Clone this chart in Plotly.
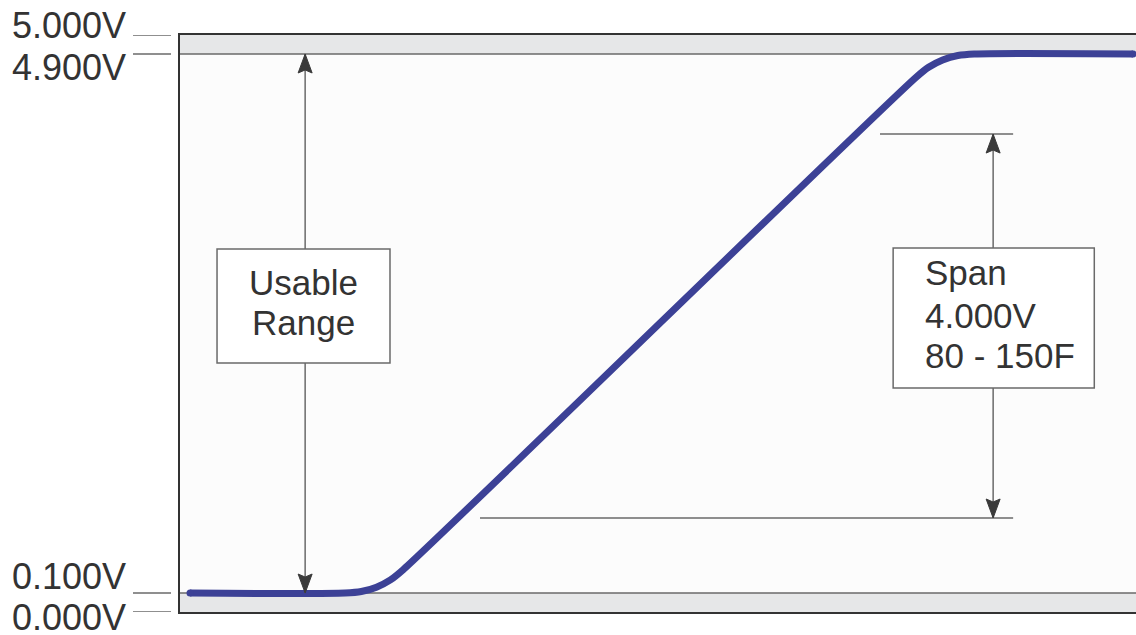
import plotly.graph_objects as go

# ---------------- data ----------------
# x: temperature (F), y: output voltage (V)
temp_f = [33.25, 60.38, 63.23, 65.88, 68.33, 70.58, 160.25, 162.5, 164.96, 167.62, 170.5, 198.28]
volts = [0.100, 0.100, 0.113, 0.152, 0.217, 0.309, 4.690, 4.782, 4.847, 4.886, 4.900, 4.900]

tick_labels = ["5.000V", "4.900V", "0.100V", "0.000V"]
tick_values = [5.069, 4.900, 0.100, -0.069]   # 5.000 / 0.000 sit on the frame edges (schematic)

usable_low, usable_high = 0.100, 4.900
span_low_v, span_high_v = 0.768, 4.187
span_low_f, span_high_f = 80, 150
usable_text = ["Usable", "Range"]
span_text = ["Span", "4.000V", "80 - 150F"]

# ---------------- layout constants ----------------
X_RANGE = [31.5, 198.8]
Y_RANGE = [-0.069, 5.069]
LINE_COLOR = "#3c4196"
TEXT_COLOR = "#333333"
GRID_GRAY = "#6a6a6a"
BAND_COLOR = "#e6e7e8"
FONT = "Liberation Sans, Arial, sans-serif"

fig = go.Figure()

fig.add_trace(go.Scatter(
    x=temp_f, y=volts, mode="lines",
    line=dict(color=LINE_COLOR, width=7, shape="spline", smoothing=0.8),
    hoverinfo="skip", showlegend=False))
# round caps at both ends of the curve
fig.add_trace(go.Scatter(
    x=[temp_f[0], temp_f[-1]], y=[volts[0], volts[-1]], mode="markers",
    marker=dict(color=LINE_COLOR, size=7, line=dict(width=0)),
    hoverinfo="skip", showlegend=False))

shapes = []
# gray bands outside usable range
shapes.append(dict(type="rect", xref="paper", yref="y", x0=0, x1=1, y0=usable_high, y1=Y_RANGE[1],
                   fillcolor=BAND_COLOR, line=dict(width=0), layer="below"))
shapes.append(dict(type="rect", xref="paper", yref="y", x0=0, x1=1, y0=Y_RANGE[0], y1=usable_low,
                   fillcolor=BAND_COLOR, line=dict(width=0), layer="below"))
# band boundary lines
for v in (usable_high, usable_low):
    shapes.append(dict(type="line", xref="paper", yref="y", x0=0, x1=1, y0=v, y1=v,
                       line=dict(color=GRID_GRAY, width=1.5), layer="below"))
# outside tick marks (detached from frame)
for v in tick_values:
    shapes.append(dict(type="line", xref="paper", yref="y", x0=-0.0492, x1=-0.0094, y0=v, y1=v,
                       line=dict(color=GRID_GRAY, width=1.5)))

ARROW_COLOR = "#3a3a3a"
# usable range arrow
ux = 53.4
shapes.append(dict(type="line", xref="x", yref="y", x0=ux, x1=ux, y0=usable_low, y1=usable_high,
                   line=dict(color=GRID_GRAY, width=1.5)))
# span reference lines
shapes.append(dict(type="line", xref="x", yref="y", x0=span_low_f + 4, x1=177.3, y0=span_low_v, y1=span_low_v,
                   line=dict(color=GRID_GRAY, width=1.5)))
shapes.append(dict(type="line", xref="x", yref="y", x0=span_high_f + 4, x1=177.3, y0=span_high_v, y1=span_high_v,
                   line=dict(color=GRID_GRAY, width=1.5)))
sx = 173.8
shapes.append(dict(type="line", xref="x", yref="y", x0=sx, x1=sx, y0=span_low_v, y1=span_high_v,
                   line=dict(color=GRID_GRAY, width=1.5)))

# arrowheads
def head(x, y, up):
    s = -1 if up else 1
    path = f"M0,0 L-7,{s*19} L0,{s*16} L7,{s*19} Z"
    return dict(type="path", xref="x", yref="y", xsizemode="pixel", ysizemode="pixel",
                xanchor=x, yanchor=y, path=path, fillcolor=ARROW_COLOR,
                line=dict(color=ARROW_COLOR, width=1))

shapes += [head(ux, usable_high, True), head(ux, usable_low, False),
           head(sx, span_high_v, True), head(sx, span_low_v, False)]

# text boxes
shapes.append(dict(type="rect", xref="x", yref="y", x0=37.98, x1=68.25, y0=2.148, y1=3.163,
                   fillcolor="white", line=dict(color=GRID_GRAY, width=1.5)))
shapes.append(dict(type="rect", xref="x", yref="y", x0=156.3, x1=191.5, y0=1.925, y1=3.172,
                   fillcolor="white", line=dict(color=GRID_GRAY, width=1.5)))

annotations = []
label_shifts = [10, -14, 17, -5.5]
for lab, v, sh in zip(tick_labels, tick_values, label_shifts):
    annotations.append(dict(text=lab, xref="paper", yref="y", x=-0.0544, y=v, yshift=sh,
                            xanchor="right", yanchor="middle", showarrow=False,
                            font=dict(size=36, color=TEXT_COLOR, family=FONT)))
for t, v in zip(usable_text, [2.869, 2.513]):
    annotations.append(dict(text=t, xref="x", yref="y", x=53.1, y=v, xanchor="center", yanchor="middle",
                            showarrow=False, font=dict(size=35, color=TEXT_COLOR, family=FONT)))
for t, v in zip(span_text, [2.958, 2.567, 2.219]):
    annotations.append(dict(text=t, xref="x", yref="y", x=161.5, y=v, xanchor="left", yanchor="middle",
                            showarrow=False, font=dict(size=35, color=TEXT_COLOR, family=FONT)))

fig.update_layout(
    width=1136, height=635,
    margin=dict(l=180, r=0, t=35, b=23),
    paper_bgcolor="white", plot_bgcolor="#fcfcfc",
    shapes=shapes, annotations=annotations,
    xaxis=dict(range=X_RANGE, showgrid=False, zeroline=False, showticklabels=False, ticks="",
               showline=True, linecolor="#333333", linewidth=2, mirror=True),
    yaxis=dict(range=Y_RANGE, showgrid=False, zeroline=False, showticklabels=False, ticks="",
               showline=True, linecolor="#333333", linewidth=2, mirror=False),
    hovermode=False,
)

fig.write_html("out.html", config={"displayModeBar": False},
               post_script="document.body.style.margin='0';document.body.style.overflow='hidden';")
